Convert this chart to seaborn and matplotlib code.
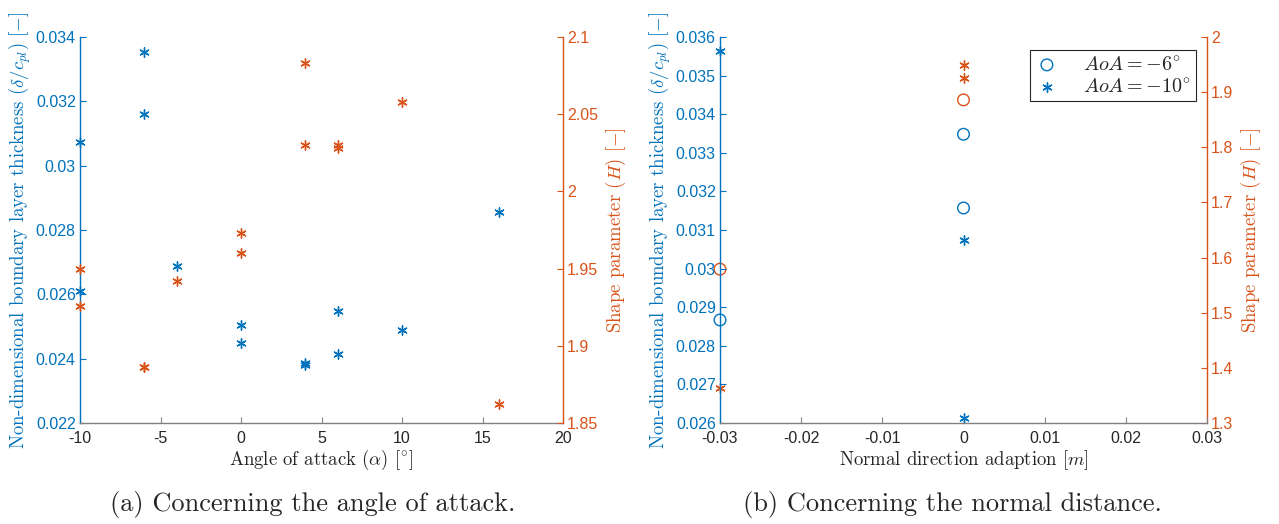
import numpy as np
import pandas as pd
import seaborn as sns
import matplotlib.pyplot as plt

# --- data ---
# (a) angle of attack sweep
aoa_blue = [-10, -10, -6, -6, -4, 0, 0, 4, 4, 6, 6, 10, 16]
delta_aoa = [0.03075, 0.0261, 0.03353, 0.0316, 0.02688, 0.02506, 0.0245,
             0.02388, 0.0238, 0.02547, 0.02413, 0.0249, 0.02856]
aoa_orange = [-10, -10, -6, -6, -4, 0, 0, 4, 4, 6, 6, 10, 16]
H_aoa = [1.950, 1.926, 1.886, 1.886, 1.942, 1.973, 1.960,
         2.083, 2.030, 2.030, 2.028, 2.058, 1.862]

# (b) normal direction adaption
dn_m6 = [-0.03, 0.0, 0.0]
delta_m6 = [0.02867, 0.03348, 0.03157]
dn_m10 = [-0.03, 0.0, 0.0]
delta_m10 = [0.03564, 0.03073, 0.02612]
dnH_m6 = [-0.03, 0.0]
H_m6 = [1.579, 1.886]
dnH_m10 = [-0.03, 0.0, 0.0]
H_m10 = [1.364, 1.950, 1.925]

BLUE = '#0072BD'
ORANGE = '#D95319'
GREY = '#262626'
ASTER = (6, 2, 0)

sns.set_style('white')
plt.rcParams['font.family'] = ['Liberation Sans', 'DejaVu Sans']
plt.rcParams['mathtext.fontset'] = 'cm'
plt.rcParams['axes.unicode_minus'] = False
plt.rcParams['xtick.direction'] = 'in'
plt.rcParams['ytick.direction'] = 'in'

SERIF = 'cmr10'
TICK_FS = 11.5
LAB_FS = 13.5


def style_axes(ax, ax2):
    for a in (ax, ax2):
        a.spines['top'].set_visible(False)
    ax.spines['right'].set_visible(False)
    ax2.spines['left'].set_visible(False)
    ax2.spines['bottom'].set_visible(False)
    ax.spines['left'].set_color(BLUE)
    ax2.spines['right'].set_color(ORANGE)
    ax.spines['bottom'].set_color('#808080')
    for a in (ax, ax2):
        for s in a.spines.values():
            s.set_linewidth(1.0)
    ax.tick_params(axis='y', colors=BLUE, labelsize=TICK_FS, length=4, width=0.8,
                   left=True, pad=3)
    ax2.tick_params(axis='y', colors=ORANGE, labelsize=TICK_FS, length=4, width=0.8,
                    right=True, pad=3)
    ax.tick_params(axis='x', colors='#808080', labelcolor=GREY, labelsize=TICK_FS,
                   length=4, width=0.8, bottom=True, pad=6)


fig = plt.figure(figsize=(12.79, 5.24), dpi=100)

# ---------- (a) ----------
ax = fig.add_axes([80 / 1279, 1 - 423 / 524, 483 / 1279, 386 / 524])
ax2 = ax.twinx()
sns.scatterplot(x=aoa_blue, y=delta_aoa, ax=ax, marker=ASTER, color=BLUE,
                s=45, linewidth=1.0, clip_on=False)
sns.scatterplot(x=aoa_orange, y=H_aoa, ax=ax2, marker=ASTER, color=ORANGE,
                s=45, linewidth=1.0, clip_on=False)
ax.set_xlim(-10, 20)
ax.set_ylim(0.022, 0.034)
ax2.set_ylim(1.85, 2.1)
ax.set_xticks(np.arange(-10, 21, 5))
ax.set_yticks(np.arange(0.022, 0.0341, 0.002))
ax.set_yticklabels(['0.022', '0.024', '0.026', '0.028', '0.03', '0.032', '0.034'])
ax2.set_yticks([1.85, 1.9, 1.95, 2.0, 2.05, 2.1])
ax2.set_yticklabels(['1.85', '1.9', '1.95', '2', '2.05', '2.1'])
style_axes(ax, ax2)
ax.set_xlabel(r'Angle of attack $(\alpha)$ $[^{\circ}]$', family=SERIF,
              fontsize=LAB_FS, color=GREY, labelpad=1)
ax.set_ylabel(r'Non-dimensional boundary layer thickness $(\delta/c_{pl})$ $[-]$',
              family=SERIF, fontsize=LAB_FS, color=BLUE, labelpad=2)
ax2.set_ylabel(r'Shape parameter $(H)$ $[-]$', family=SERIF, fontsize=LAB_FS,
               color=ORANGE, labelpad=4)

# ---------- (b) ----------
bx = fig.add_axes([720 / 1279, 1 - 423 / 524, 487 / 1279, 386 / 524])
bx2 = bx.twinx()
sns.scatterplot(x=dn_m6, y=delta_m6, ax=bx, marker='o', facecolor='none',
                edgecolor=BLUE, s=70, linewidth=1.0, clip_on=False,
                label=r'$AoA=-6^{\circ}$')
sns.scatterplot(x=dn_m10, y=delta_m10, ax=bx, marker=ASTER, color=BLUE,
                s=45, linewidth=1.0, clip_on=False, label=r'$AoA=-10^{\circ}$')
sns.scatterplot(x=dnH_m6, y=H_m6, ax=bx2, marker='o', facecolor='none',
                edgecolor=ORANGE, s=70, linewidth=1.0, clip_on=False)
sns.scatterplot(x=dnH_m10, y=H_m10, ax=bx2, marker=ASTER, color=ORANGE,
                s=45, linewidth=1.0, clip_on=False)
bx.set_xlim(-0.03, 0.03)
bx.set_ylim(0.026, 0.036)
bx2.set_ylim(1.3, 2.0)
bx.set_xticks(np.round(np.arange(-0.03, 0.031, 0.01), 2))
bx.set_xticklabels(['-0.03', '-0.02', '-0.01', '0', '0.01', '0.02', '0.03'])
bx.set_yticks(np.round(np.arange(0.026, 0.0361, 0.001), 3))
bx.set_yticklabels(['0.026', '0.027', '0.028', '0.029', '0.03', '0.031',
                    '0.032', '0.033', '0.034', '0.035', '0.036'])
bx2.set_yticks(np.round(np.arange(1.3, 2.01, 0.1), 1))
bx2.set_yticklabels(['1.3', '1.4', '1.5', '1.6', '1.7', '1.8', '1.9', '2'])
style_axes(bx, bx2)
bx.set_xlabel(r'Normal direction adaption $[m]$', family=SERIF,
              fontsize=LAB_FS, color=GREY, labelpad=1)
bx.set_ylabel(r'Non-dimensional boundary layer thickness $(\delta/c_{pl})$ $[-]$',
              family=SERIF, fontsize=LAB_FS, color=BLUE, labelpad=2)
bx2.set_ylabel(r'Shape parameter $(H)$ $[-]$', family=SERIF, fontsize=LAB_FS,
               color=ORANGE, labelpad=4)
leg = bx.legend(loc='upper right', bbox_to_anchor=(0.977, 0.966), fontsize=14.5,
                frameon=True, fancybox=False, edgecolor=GREY, framealpha=1,
                borderpad=0.25, borderaxespad=0, handlelength=1.2,
                handletextpad=1.2, labelspacing=0.15)
leg.get_frame().set_linewidth(0.8)
bx.set_zorder(bx2.get_zorder() + 1)
bx.patch.set_visible(False)

# captions
fig.text(313 / 1279, 1 - 505 / 524, '(a) Concerning the angle of attack.',
         ha='center', va='center', family=SERIF, fontsize=19)
fig.text(952 / 1279, 1 - 505 / 524, '(b) Concerning the normal distance.',
         ha='center', va='center', family=SERIF, fontsize=19)

fig.savefig('out.png', dpi=100)
